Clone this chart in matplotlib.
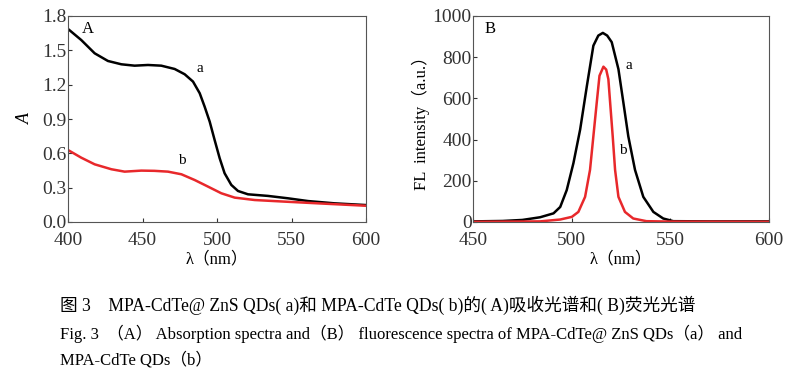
import numpy as np
import matplotlib.pyplot as plt

plt.rcParams['font.family'] = ['Liberation Serif', 'Noto Sans CJK SC']

# panel A: absorption spectra
abs_wl_a = [400, 408.9, 417.9, 426.8, 435.8, 444.7, 453.7, 462.6, 471.6, 478.3, 483.9,
            488.4, 491.7, 495.1, 498.4, 501.8, 505.1, 509.6, 514.1, 520.8, 534.2,
            547.7, 561.1, 579, 600]
abs_a = [1.687, 1.59, 1.474, 1.407, 1.378, 1.366, 1.372, 1.366, 1.337, 1.291, 1.227,
         1.125, 1.008, 0.877, 0.717, 0.557, 0.426, 0.324, 0.271, 0.242, 0.228,
         0.207, 0.183, 0.163, 0.148]
abs_wl_b = [400, 408.9, 417.9, 429.1, 438, 449.2, 458, 467.1, 476.1, 485, 494,
            502.9, 511.9, 525.3, 545.4, 567.8, 600]
abs_b = [0.629, 0.562, 0.504, 0.461, 0.44, 0.449, 0.447, 0.44, 0.417, 0.367, 0.309,
         0.251, 0.213, 0.192, 0.178, 0.163, 0.142]

# panel B: fluorescence spectra
fl_wl_a = [450, 465, 475, 484, 490.8, 494.2, 497.5, 500.9, 504.3, 507.7, 511.0, 513.5,
           515.8, 518, 520.3, 523.7, 526.2, 528.7, 532.1, 536.3, 541.4, 546.4, 551.5,
           570, 600]
fl_a = [3, 5, 10, 23, 42, 73, 155, 286, 449, 660, 856, 905,
        918, 905, 873, 742, 580, 416, 253, 122, 49, 17, 4,
        3, 3]
fl_wl_b = [450, 470, 484, 494.2, 500.1, 503.4, 506.8, 509.3, 511, 512.7, 514.1, 516.1,
           517.5, 518.6, 519.5, 520.8, 522, 523.7, 527, 531.2, 537.9, 550, 600]
fl_b = [1, 2, 3, 12, 25, 49, 122, 253, 416, 579, 710, 754,
        740, 693, 579, 416, 253, 122, 49, 17, 4, 2, 1]

fig = plt.figure(figsize=(8, 3.78), dpi=100)
axA = fig.add_axes([68/800, 1 - 222/378, 298/800, 206/378])
axB = fig.add_axes([473/800, 1 - 222/378, 296/800, 206/378])

red = '#e8282b'
axA.plot(abs_wl_a, abs_a, color='black', lw=1.8)
axA.plot(abs_wl_b, abs_b, color=red, lw=1.8)
axA.set_xlim(400, 600)
axA.set_ylim(0, 1.8)
axA.set_xticks([400, 450, 500, 550, 600])
axA.set_yticks(np.arange(0, 1.81, 0.3))
axA.set_yticklabels(['0.0', '0.3', '0.6', '0.9', '1.2', '1.5', '1.8'])
axA.set_ylabel('A', style='italic', fontsize=13, labelpad=6)
axA.set_xlabel('λ（nm）', fontsize=12, labelpad=2)
axA.text(413, 1.687, 'A', fontsize=12, ha='center', va='center')
axA.text(488.4, 1.337, 'a', fontsize=11, ha='center', va='center')
axA.text(476.1, 0.536, 'b', fontsize=11, ha='center', va='center')

axB.plot(fl_wl_a, fl_a, color='black', lw=1.8)
axB.plot(fl_wl_b, fl_b, color=red, lw=1.8)
axB.set_xlim(450, 600)
axB.set_ylim(0, 1000)
axB.set_xticks([450, 500, 550, 600])
axB.set_yticks(np.arange(0, 1001, 200))
axB.set_ylabel('FL  intensity（a.u.）', fontsize=12, labelpad=2)
axB.set_xlabel('λ（nm）', fontsize=12, labelpad=2)
axB.text(458.8, 935, 'B', fontsize=12, ha='center', va='center')
axB.text(528.8, 762, 'a', fontsize=11, ha='center', va='center')
axB.text(525.9, 347, 'b', fontsize=11, ha='center', va='center')

for ax in (axA, axB):
    ax.tick_params(direction='in', length=3, labelsize=14, colors='#333333')
    ax.tick_params(axis='y', pad=1)
    ax.tick_params(axis='x', pad=7)
    for s in ax.spines.values():
        s.set_color('#555555')

fig.text(60/800, 1 - 305/378, '图 3    MPA-CdTe@ ZnS QDs( a)和 MPA-CdTe QDs( b)的( A)吸收光谱和( B)荧光光谱',
         fontsize=12.7, va='center', ha='left')
fig.text(60/800, 1 - 334/378,
         'Fig. 3  （A） Absorption spectra and（B） fluorescence spectra of MPA-CdTe@ ZnS QDs（a） and',
         fontsize=12, va='center', ha='left')
fig.text(60/800, 1 - 360/378, 'MPA-CdTe QDs（b）', fontsize=12, va='center', ha='left')

fig.savefig('out.png', dpi=100)
